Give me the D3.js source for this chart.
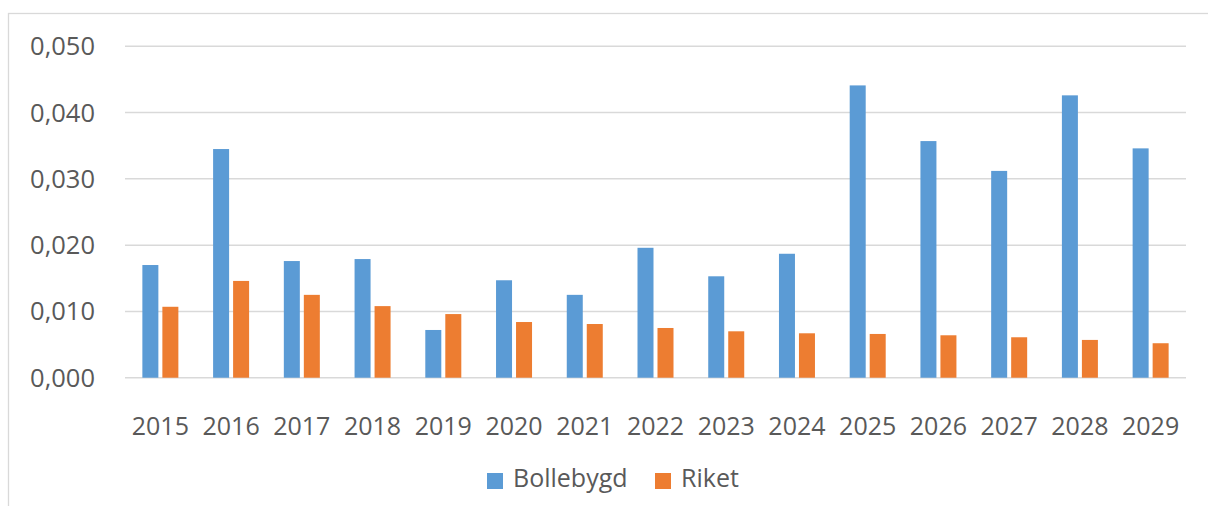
<!DOCTYPE html>
<html>
<head>
<meta charset="utf-8">
<script src="https://cdn.jsdelivr.net/npm/d3@7"></script>
<style>
  body { margin: 0; background: #fff; }
  svg { display: block; font-family: "Open Sans", sans-serif; }
</style>
</head>
<body>
<script>
//Declare DATA
const years = ['2015','2016','2017','2018','2019','2020','2021','2022','2023','2024','2025','2026','2027','2028','2029']
const bollebygd = [0.0170, 0.0345, 0.0176, 0.0179, 0.0072, 0.0147, 0.0125, 0.0196, 0.0153, 0.0187, 0.0441, 0.0357, 0.0312, 0.0426, 0.0346]
const riket = [0.0107, 0.0146, 0.0125, 0.0108, 0.0096, 0.0084, 0.0081, 0.0075, 0.0070, 0.0067, 0.0066, 0.0064, 0.0061, 0.0057, 0.0052]
const seriesNames = ['Bollebygd', 'Riket']
const yTicks = [0, 0.01, 0.02, 0.03, 0.04, 0.05]

const w = 1208
const h = 506
const colors = ['#5B9BD5', '#ED7D31']
const textColor = '#595959'

const svg = d3.select('body')
  .append('svg')
  .attr('width', w)
  .attr('height', h)

//Chart frame
svg.append('rect')
  .attr('x', 8.5)
  .attr('y', 13.5)
  .attr('width', w + 10)
  .attr('height', h + 10)
  .attr('fill', 'none')
  .attr('stroke', '#D9D9D9')
  .attr('stroke-width', 1.3)

//Scales
const xScale = d3.scaleBand()
  .domain(years)
  .range([125, 1186])

const yScale = d3.scaleLinear()
  .domain([0, 0.05])
  .range([377.7, 46.3])

const barW = 16
const gap = 4

//Gridlines
svg.append('g')
  .selectAll('line')
  .data(yTicks)
  .enter()
  .append('line')
  .attr('x1', 125)
  .attr('x2', 1186)
  .attr('y1', d => yScale(d))
  .attr('y2', d => yScale(d))
  .attr('stroke', '#D9D9D9')
  .attr('stroke-width', 1.5)

//Y axis labels
const yFormat = d => d3.format('.3f')(d).replace('.', ',')
svg.append('g')
  .selectAll('text')
  .data(yTicks)
  .enter()
  .append('text')
  .attr('x', 95)
  .attr('y', d => yScale(d) + 9)
  .attr('text-anchor', 'end')
  .attr('fill', textColor)
  .style('font-size', '25.5px')
  .text(yFormat)

//Bars
const data = years.map((y, i) => ({ year: y, values: [bollebygd[i], riket[i]] }))
const groups = svg.append('g')
  .selectAll('g')
  .data(data)
  .enter()
  .append('g')
  .attr('transform', d => 'translate(' + (xScale(d.year) + xScale.bandwidth() / 2) + ',0)')

groups.selectAll('rect')
  .data(d => d.values)
  .enter()
  .append('rect')
  .attr('x', (d, i) => i === 0 ? -(barW + gap / 2) : gap / 2)
  .attr('width', barW)
  .attr('y', d => yScale(d))
  .attr('height', d => yScale(0) - yScale(d))
  .attr('fill', (d, i) => colors[i])

//X axis labels
svg.append('g')
  .selectAll('text')
  .data(years)
  .enter()
  .append('text')
  .attr('x', d => xScale(d) + xScale.bandwidth() / 2)
  .attr('y', 435)
  .attr('text-anchor', 'middle')
  .attr('fill', textColor)
  .style('font-size', '25px')
  .text(d => d)

//Legend
const legendX = [487, 655]
const legend = svg.append('g')
  .selectAll('g')
  .data(seriesNames)
  .enter()
  .append('g')
  .attr('transform', (d, i) => 'translate(' + legendX[i] + ',473)')

legend.append('rect')
  .attr('width', 16)
  .attr('height', 16)
  .attr('fill', (d, i) => colors[i])

legend.append('text')
  .attr('x', 26)
  .attr('y', 14)
  .attr('fill', textColor)
  .style('font-size', '25px')
  .text(d => d)
</script>
</body>
</html>
